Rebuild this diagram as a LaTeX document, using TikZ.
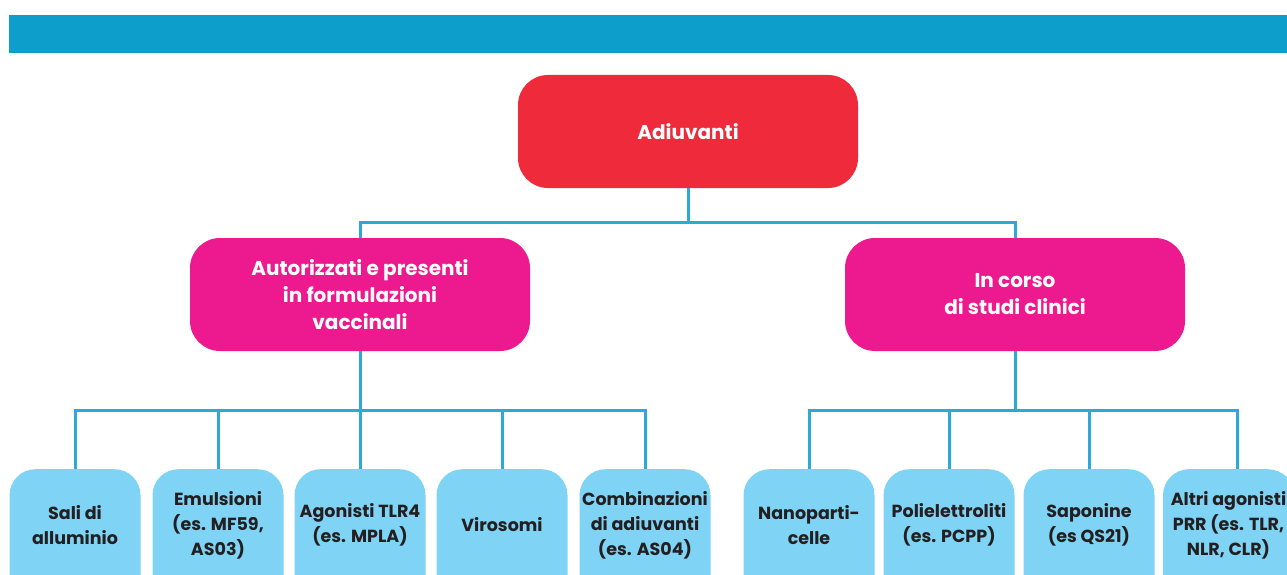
\documentclass[tikz,border=0pt]{standalone}
\usepackage{fontspec}
\setmainfont{Poppins}
\definecolor{barc}{HTML}{0E9ECC}
\definecolor{redc}{HTML}{EE2A3B}
\definecolor{pinkc}{HTML}{EC1A8E}
\definecolor{leafc}{HTML}{7FD3F5}
\definecolor{linec}{HTML}{2BA9D7}
\definecolor{txtc}{HTML}{231F20}
\begin{document}
\begin{tikzpicture}[x=1pt,y=-1pt,
  conn/.style={draw=linec,line width=3pt},
  rootbox/.style={fill=redc,rounded corners=30pt,minimum width=340pt,minimum height=113pt,inner sep=0pt,
    text=white,font=\fontsize{20}{27}\selectfont\bfseries,align=center},
  midbox/.style={fill=pinkc,rounded corners=30pt,minimum width=340pt,minimum height=113pt,inner sep=0pt,
    text=white,font=\fontsize{20}{27}\selectfont\bfseries,align=center},
  leafbox/.style={fill=leafc,rounded corners=26pt,minimum width=131pt,minimum height=160pt,inner sep=0pt,anchor=north},
  leaftext/.style={text=txtc,font=\fontsize{17.5}{25}\selectfont\bfseries,align=center,inner sep=0pt}
]
\useasboundingbox (0,0) rectangle (1287,575);
\clip (0,0) rectangle (1287,575);
\fill[barc] (9,15) rectangle (1300,53);

\node[rootbox] (adi) at (688,131.5) {Adiuvanti};
\node[midbox] (aut) at (360,294.5) {Autorizzati e presenti\\in formulazioni\\vaccinali};
\node[midbox] (cli) at (1015,294.5) {In corso\\di studi clinici};

\node[leafbox] (l1) at (75,469) {};
\node[leafbox] (l2) at (218,469) {};
\node[leafbox] (l3) at (360,469) {};
\node[leafbox] (l4) at (502,469) {};
\node[leafbox] (l5) at (645,469) {};
\node[leafbox] (l6) at (809,469) {};
\node[leafbox] (l7) at (949,469) {};
\node[leafbox] (l8) at (1089,469) {};
\node[leafbox] (l9) at (1228.5,469) {};

\node[leaftext] (t1) at (75,525) {Sali di\\alluminio};
\node[leaftext] (t2) at (218,525) {Emulsioni\\(es. MF59,\\AS03)};
\node[leaftext] (t3) at (360,525) {Agonisti TLR4\\(es. MPLA)};
\node[leaftext] (t4) at (502,525) {Virosomi};
\node[leaftext] (t5) at (645,525) {Combinazioni\\di adiuvanti\\(es. AS04)};
\node[leaftext] (t6) at (809,525) {Nanoparti-\\celle};
\node[leaftext] (t7) at (949,525) {Polielettroliti\\(es. PCPP)};
\node[leaftext] (t8) at (1089,525) {Saponine\\(es QS21)};
\node[leaftext] (t9) at (1228.5,525) {Altri agonisti\\PRR (es. TLR,\\NLR, CLR)};

\coordinate (h1) at (0,222);
\coordinate (h2) at (0,410);
\coordinate (l9in) at ([xshift=8.5pt]l9.north);

\draw[conn] (adi.south) -- (adi.south |- h1) -| (aut.north);
\draw[conn] (adi.south |- h1) -| (cli.north);

\draw[conn] (aut.south) -- (aut.south |- h2);
\foreach \k in {l1,l2,l3,l4,l5} \draw[conn] (aut.south |- h2) -| (\k.north);
\draw[conn] (cli.south) -- (cli.south |- h2);
\foreach \k in {l6,l7,l8} \draw[conn] (cli.south |- h2) -| (\k.north);
\draw[conn] (cli.south |- h2) -| (l9in);
\end{tikzpicture}
\end{document}
